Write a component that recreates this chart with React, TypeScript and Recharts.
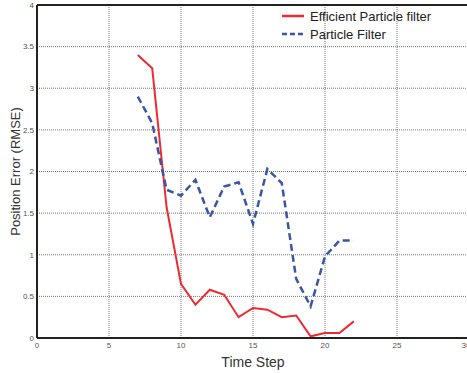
import { LineChart, Line, XAxis, YAxis, CartesianGrid, ReferenceLine } from 'recharts';

const steps = [7, 8, 9, 10, 11, 12, 13, 14, 15, 16, 17, 18, 19, 20, 21, 22];
const efficientPF = [3.4, 3.24, 1.57, 0.65, 0.4, 0.58, 0.52, 0.25, 0.36, 0.34, 0.25, 0.27, 0.02, 0.06, 0.06, 0.2];
const particleFilter = [2.9, 2.58, 1.78, 1.71, 1.9, 1.45, 1.82, 1.87, 1.37, 2.03, 1.86, 0.71, 0.38, 0.98, 1.17, 1.17];
const xTicks = [0, 5, 10, 15, 20, 25, 30];
const yTicks = [0, 0.5, 1, 1.5, 2, 2.5, 3, 3.5, 4];

const data = steps.map((s, i) => ({ step: s, efficient: efficientPF[i], pf: particleFilter[i] }));

const font = 'Arial, "Liberation Sans", sans-serif';

// legend drawn outside recharts so it does not eat plot space
function LegendBox() {
    const rows = [
        { label: 'Efficient Particle filter', color: '#ee2a30', dash: undefined },
        { label: 'Particle Filter', color: '#3a55a6', dash: '5 3' },
    ];
    return (
        <div style={{ position: 'absolute', left: 282, top: 7, fontFamily: font, fontSize: 13, color: '#222' }}>
            {rows.map((r) => (
                <div key={r.label} style={{ display: 'flex', alignItems: 'center', height: 18 }}>
                    <svg width={24} height={6} style={{ marginRight: 4 }}>
                        <line x1={0} y1={3} x2={22} y2={3} stroke={r.color} strokeWidth={2.5} strokeDasharray={r.dash} />
                    </svg>
                    <span>{r.label}</span>
                </div>
            ))}
        </div>
    );
}

export default function App() {
    return (
        <div style={{ position: 'absolute', left: 0, top: 0, width: 467, height: 373, background: '#fff', overflow: 'hidden' }}>
            <LineChart width={470} height={373} data={data} margin={{ top: 5, right: 1, left: 0, bottom: 0 }}>
                <CartesianGrid stroke="#666" strokeDasharray="1 1" strokeWidth={0.9} />
                <XAxis
                    dataKey="step"
                    type="number"
                    domain={[0, 30]}
                    ticks={xTicks}
                    height={35}
                    tickSize={0}
                    tickMargin={4}
                    axisLine={{ stroke: '#222', strokeWidth: 2 }}
                    tick={{ fill: '#555', fontSize: 8, fontFamily: font }}
                    label={{ value: 'Time Step', position: 'insideBottom', offset: 6, fill: '#333', fontSize: 14, fontFamily: font }}
                />
                <YAxis
                    type="number"
                    domain={[0, 4]}
                    ticks={yTicks}
                    width={37}
                    tickSize={0}
                    tickMargin={3}
                    axisLine={{ stroke: '#222', strokeWidth: 2 }}
                    tick={{ fill: '#555', fontSize: 8, fontFamily: font }}
                    label={{ value: 'Position Error (RMSE)', angle: -90, position: 'center', dx: -3, fill: '#333', fontSize: 13, fontFamily: font }}
                />
                <ReferenceLine y={4} stroke="#222" strokeWidth={2} />
                <ReferenceLine x={30} stroke="#222" strokeWidth={2} />
                <Line dataKey="efficient" stroke="#ee2a30" strokeWidth={2} dot={false} isAnimationActive={false} />
                <Line dataKey="pf" stroke="#3a55a6" strokeWidth={2.5} strokeDasharray="7 4" dot={false} isAnimationActive={false} />
            </LineChart>
            <LegendBox />
        </div>
    );
}
